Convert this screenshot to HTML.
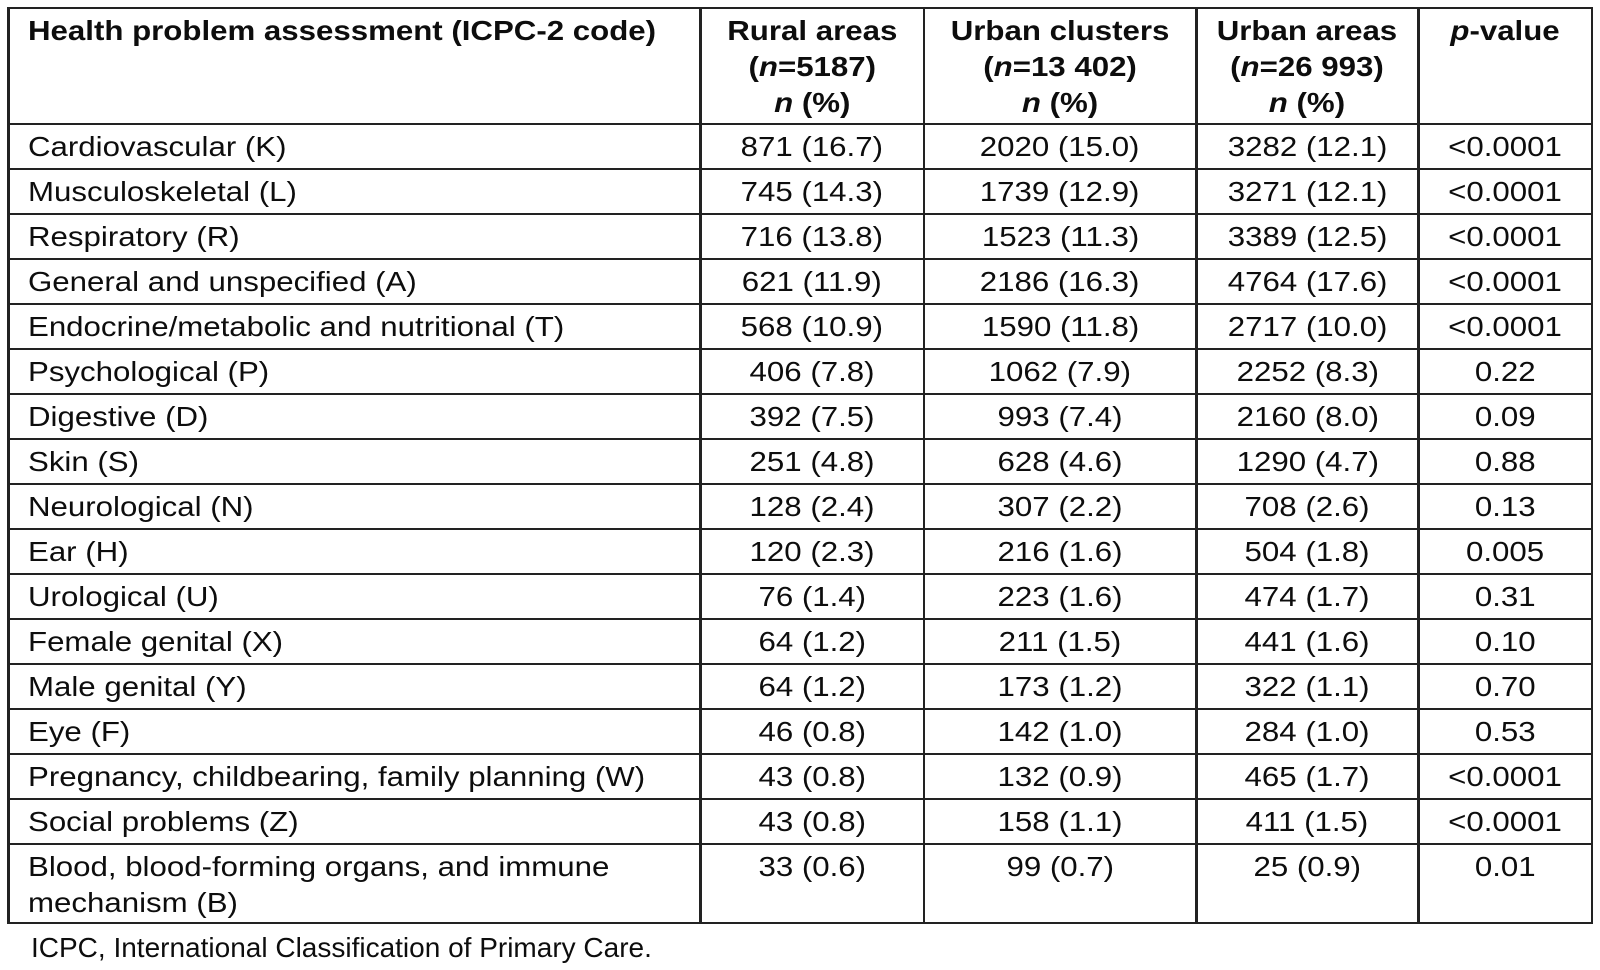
<!DOCTYPE html>
<html>
<head>
<meta charset="utf-8">
<style>
  html,body{margin:0;padding:0;background:#fff;}
  body{width:1600px;height:970px;position:relative;overflow:hidden;
       font-family:"Liberation Sans",Arial,Helvetica,sans-serif;color:#0d0d0d;}
  .h{position:absolute;left:7.3px;width:1586px;height:2.5px;background:#222;}
  .v{position:absolute;top:6.7px;height:917.6px;width:2.5px;background:#222;}
  .r{position:absolute;left:0;width:1600px;height:72px;}
  .c{position:absolute;top:0;font-size:28px;line-height:36px;white-space:nowrap;}
  .c1{left:27.5px;}
  .c2{left:701.8px;width:220.9px;text-align:center;}
  .c3{left:925.2px;width:269.8px;text-align:center;}
  .c4{left:1197.5px;width:219.8px;text-align:center;}
  .c5{left:1419.8px;width:171px;text-align:center;}
  .s{display:inline-block;transform:scaleX(1.115);transform-origin:50% 0;white-space:nowrap;}
  .c1 .s{transform-origin:0 0;}
  .hd .c{font-weight:bold;line-height:36.3px;}
  .foot{position:absolute;left:31px;top:931.6px;font-size:28px;line-height:32px;white-space:nowrap;}
</style>
</head>
<body>
<!-- horizontal lines -->
<div class="h" style="top:6.7px"></div>
<div class="h" style="top:122.7px"></div>
<div class="h" style="top:167.7px"></div>
<div class="h" style="top:212.7px"></div>
<div class="h" style="top:257.7px"></div>
<div class="h" style="top:302.7px"></div>
<div class="h" style="top:347.7px"></div>
<div class="h" style="top:392.7px"></div>
<div class="h" style="top:437.7px"></div>
<div class="h" style="top:482.7px"></div>
<div class="h" style="top:527.7px"></div>
<div class="h" style="top:572.7px"></div>
<div class="h" style="top:617.7px"></div>
<div class="h" style="top:662.7px"></div>
<div class="h" style="top:707.7px"></div>
<div class="h" style="top:752.7px"></div>
<div class="h" style="top:797.7px"></div>
<div class="h" style="top:842.7px"></div>
<div class="h" style="top:921.8px"></div>
<!-- vertical lines -->
<div class="v" style="left:7.3px"></div>
<div class="v" style="left:699.3px"></div>
<div class="v" style="left:922.7px"></div>
<div class="v" style="left:1195px"></div>
<div class="v" style="left:1417.3px"></div>
<div class="v" style="left:1590.8px"></div>

<!-- header -->
<div class="r hd" style="top:12.8px">
  <div class="c c1"><span class="s">Health problem assessment (ICPC-2 code)</span></div>
  <div class="c c2"><span class="s">Rural areas<br>(<i>n</i>=5187)<br><i>n</i> (%)</span></div>
  <div class="c c3"><span class="s">Urban clusters<br>(<i>n</i>=13 402)<br><i>n</i> (%)</span></div>
  <div class="c c4"><span class="s">Urban areas<br>(<i>n</i>=26 993)<br><i>n</i> (%)</span></div>
  <div class="c c5"><span class="s"><i>p</i>-value</span></div>
</div>

<div class="r" style="top:129.3px"><div class="c c1"><span class="s">Cardiovascular (K)</span></div><div class="c c2"><span class="s">871 (16.7)</span></div><div class="c c3"><span class="s">2020 (15.0)</span></div><div class="c c4"><span class="s">3282 (12.1)</span></div><div class="c c5"><span class="s">&lt;0.0001</span></div></div>
<div class="r" style="top:174.3px"><div class="c c1"><span class="s">Musculoskeletal (L)</span></div><div class="c c2"><span class="s">745 (14.3)</span></div><div class="c c3"><span class="s">1739 (12.9)</span></div><div class="c c4"><span class="s">3271 (12.1)</span></div><div class="c c5"><span class="s">&lt;0.0001</span></div></div>
<div class="r" style="top:219.3px"><div class="c c1"><span class="s">Respiratory (R)</span></div><div class="c c2"><span class="s">716 (13.8)</span></div><div class="c c3"><span class="s">1523 (11.3)</span></div><div class="c c4"><span class="s">3389 (12.5)</span></div><div class="c c5"><span class="s">&lt;0.0001</span></div></div>
<div class="r" style="top:264.3px"><div class="c c1"><span class="s">General and unspecified (A)</span></div><div class="c c2"><span class="s">621 (11.9)</span></div><div class="c c3"><span class="s">2186 (16.3)</span></div><div class="c c4"><span class="s">4764 (17.6)</span></div><div class="c c5"><span class="s">&lt;0.0001</span></div></div>
<div class="r" style="top:309.3px"><div class="c c1"><span class="s">Endocrine/metabolic and nutritional (T)</span></div><div class="c c2"><span class="s">568 (10.9)</span></div><div class="c c3"><span class="s">1590 (11.8)</span></div><div class="c c4"><span class="s">2717 (10.0)</span></div><div class="c c5"><span class="s">&lt;0.0001</span></div></div>
<div class="r" style="top:354.3px"><div class="c c1"><span class="s">Psychological (P)</span></div><div class="c c2"><span class="s">406 (7.8)</span></div><div class="c c3"><span class="s">1062 (7.9)</span></div><div class="c c4"><span class="s">2252 (8.3)</span></div><div class="c c5"><span class="s">0.22</span></div></div>
<div class="r" style="top:399.3px"><div class="c c1"><span class="s">Digestive (D)</span></div><div class="c c2"><span class="s">392 (7.5)</span></div><div class="c c3"><span class="s">993 (7.4)</span></div><div class="c c4"><span class="s">2160 (8.0)</span></div><div class="c c5"><span class="s">0.09</span></div></div>
<div class="r" style="top:444.3px"><div class="c c1"><span class="s">Skin (S)</span></div><div class="c c2"><span class="s">251 (4.8)</span></div><div class="c c3"><span class="s">628 (4.6)</span></div><div class="c c4"><span class="s">1290 (4.7)</span></div><div class="c c5"><span class="s">0.88</span></div></div>
<div class="r" style="top:489.3px"><div class="c c1"><span class="s">Neurological (N)</span></div><div class="c c2"><span class="s">128 (2.4)</span></div><div class="c c3"><span class="s">307 (2.2)</span></div><div class="c c4"><span class="s">708 (2.6)</span></div><div class="c c5"><span class="s">0.13</span></div></div>
<div class="r" style="top:534.3px"><div class="c c1"><span class="s">Ear (H)</span></div><div class="c c2"><span class="s">120 (2.3)</span></div><div class="c c3"><span class="s">216 (1.6)</span></div><div class="c c4"><span class="s">504 (1.8)</span></div><div class="c c5"><span class="s">0.005</span></div></div>
<div class="r" style="top:579.3px"><div class="c c1"><span class="s">Urological (U)</span></div><div class="c c2"><span class="s">76 (1.4)</span></div><div class="c c3"><span class="s">223 (1.6)</span></div><div class="c c4"><span class="s">474 (1.7)</span></div><div class="c c5"><span class="s">0.31</span></div></div>
<div class="r" style="top:624.3px"><div class="c c1"><span class="s">Female genital (X)</span></div><div class="c c2"><span class="s">64 (1.2)</span></div><div class="c c3"><span class="s">211 (1.5)</span></div><div class="c c4"><span class="s">441 (1.6)</span></div><div class="c c5"><span class="s">0.10</span></div></div>
<div class="r" style="top:669.3px"><div class="c c1"><span class="s">Male genital (Y)</span></div><div class="c c2"><span class="s">64 (1.2)</span></div><div class="c c3"><span class="s">173 (1.2)</span></div><div class="c c4"><span class="s">322 (1.1)</span></div><div class="c c5"><span class="s">0.70</span></div></div>
<div class="r" style="top:714.3px"><div class="c c1"><span class="s">Eye (F)</span></div><div class="c c2"><span class="s">46 (0.8)</span></div><div class="c c3"><span class="s">142 (1.0)</span></div><div class="c c4"><span class="s">284 (1.0)</span></div><div class="c c5"><span class="s">0.53</span></div></div>
<div class="r" style="top:759.3px"><div class="c c1"><span class="s">Pregnancy, childbearing, family planning (W)</span></div><div class="c c2"><span class="s">43 (0.8)</span></div><div class="c c3"><span class="s">132 (0.9)</span></div><div class="c c4"><span class="s">465 (1.7)</span></div><div class="c c5"><span class="s">&lt;0.0001</span></div></div>
<div class="r" style="top:804.3px"><div class="c c1"><span class="s">Social problems (Z)</span></div><div class="c c2"><span class="s">43 (0.8)</span></div><div class="c c3"><span class="s">158 (1.1)</span></div><div class="c c4"><span class="s">411 (1.5)</span></div><div class="c c5"><span class="s">&lt;0.0001</span></div></div>
<div class="r" style="top:849.3px"><div class="c c1"><span class="s">Blood, blood-forming organs, and immune<br>mechanism (B)</span></div><div class="c c2"><span class="s">33 (0.6)</span></div><div class="c c3"><span class="s">99 (0.7)</span></div><div class="c c4"><span class="s">25 (0.9)</span></div><div class="c c5"><span class="s">0.01</span></div></div>

<div class="foot">ICPC, International Classification of Primary Care.</div>
</body>
</html>
